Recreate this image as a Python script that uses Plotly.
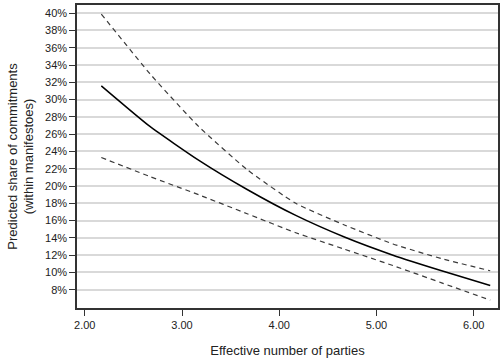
import plotly.graph_objects as go

# Effective number of parties (x) and predicted share (%)
enp = [2.17, 2.67, 3.17, 3.67, 4.17, 4.67, 5.17, 5.67, 6.17]
prediccion = [31.6, 26.9, 23.0, 19.6, 16.6, 14.1, 12.0, 10.2, 8.5]
ic_superior = [39.9, 33.0, 26.9, 21.9, 18.0, 15.5, 13.3, 11.6, 10.2]
ic_inferior = [23.3, 21.1, 19.0, 16.8, 14.6, 12.7, 10.8, 8.8, 6.8]

ticks_y = list(range(8, 41, 2))
ticks_x = [2, 3, 4, 5, 6]

fig = go.Figure()

# intervalo de confianza (lineas discontinuas)
for serie in [ic_superior, ic_inferior]:
    fig.add_trace(go.Scatter(x=enp, y=serie, mode='lines',
                             line=dict(color='#3a3a3a', width=1.2, dash='5px,4px', shape='spline', smoothing=0.5),
                             showlegend=False, hoverinfo='skip'))

# prediccion central
fig.add_trace(go.Scatter(x=enp, y=prediccion, mode='lines',
                         line=dict(color='black', width=1.5, shape='spline', smoothing=0.5),
                         showlegend=False))

fig.update_layout(
    width=503, height=359,
    margin=dict(l=77, r=4, t=3, b=49),
    paper_bgcolor='white', plot_bgcolor='white',
    font=dict(family='Liberation Sans, Arial, sans-serif', color='#222', size=11),
)

fig.update_xaxes(
    range=[1.92, 6.25],
    tickvals=ticks_x, ticktext=[f'{v:.2f}' for v in ticks_x],
    ticks='outside', ticklen=6, tickcolor='#333',
    showgrid=False, zeroline=False,
    showline=True, linecolor='#333', linewidth=1.5, mirror=True,
    title=dict(text='Effective number of parties', font=dict(size=13), standoff=16),
)

fig.update_yaxes(
    range=[5.89, 40.95],
    tickvals=ticks_y, ticktext=[f'{v}%' for v in ticks_y],
    ticks='outside', ticklen=6, tickcolor='#333',
    showgrid=True, gridcolor='#d9d9d9', gridwidth=1.5, zeroline=False,
    showline=True, linecolor='#333', linewidth=1.5, mirror=True,
    title=dict(text='Predicted share of commitments<br>(within manifestoes)', font=dict(size=13), standoff=8),
)

# quitar el margen por defecto del body para que la figura quede en (0, 0)
fig.write_html("out.html", config={'displayModeBar': False},
               post_script="document.body.style.margin='0px';")
